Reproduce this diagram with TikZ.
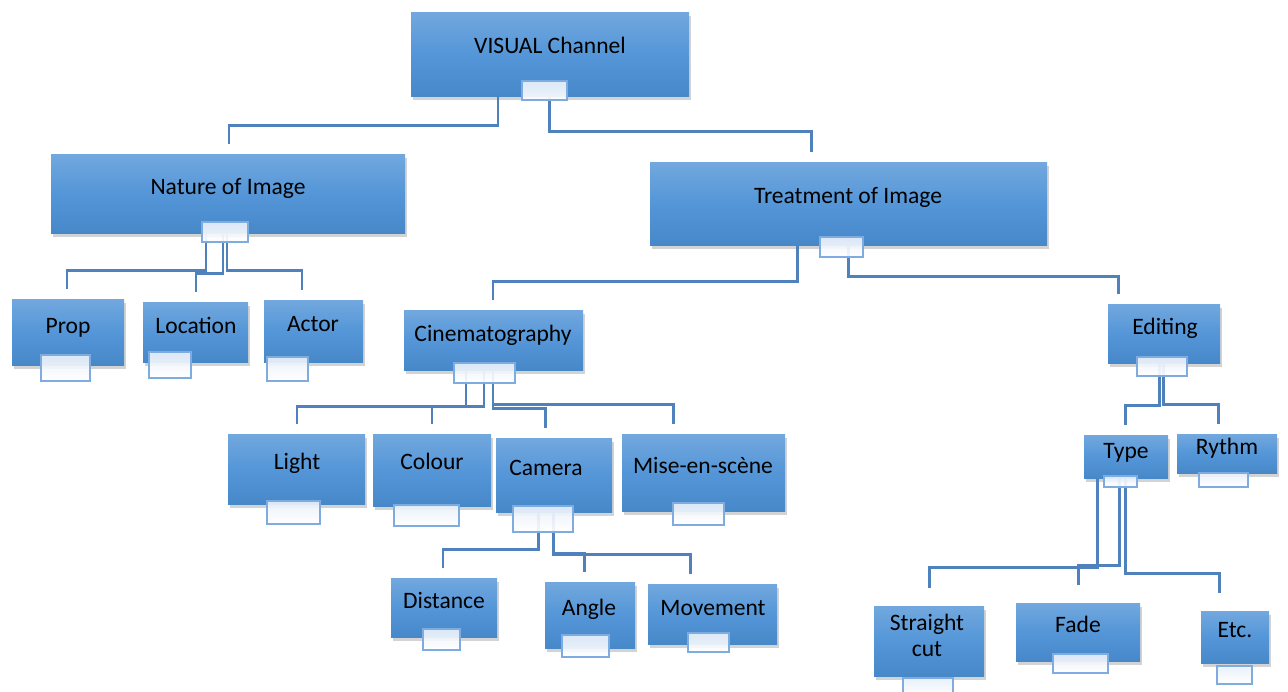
\documentclass[tikz,border=0pt]{standalone}
\usepackage{fontspec}
\setmainfont{Carlito}
\usetikzlibrary{fit,shadows}

\definecolor{boxtop}{RGB}{114,168,222}
\definecolor{boxmid}{RGB}{84,150,216}
\definecolor{boxbot}{RGB}{70,136,200}
\definecolor{linkblue}{RGB}{79,129,189}
\definecolor{tabline}{RGB}{126,172,224}
\definecolor{tabtop}{RGB}{232,240,250}

\tikzset{
  box/.style={inner sep=0pt, top color=boxtop, bottom color=boxbot, middle color=boxmid,
    drop shadow={shadow xshift=1pt, shadow yshift=-2pt, opacity=0.35}},
  tabbox/.style={inner sep=0pt, draw=tabline, line width=0.8pt, top color=tabtop, bottom color=white, fill opacity=0.92},
  lbl/.style={inner sep=0pt, font=\fontsize{13.4}{14.7}\selectfont},
  boxtext/.style={lbl, text height=0.8em, text depth=0pt},
  link/.style={draw=linkblue, line width=1.7pt, shorten >=0.19cm},
  linklong/.style={link, shorten >=0.36cm}
}

\begin{document}
\begin{tikzpicture}[x=0.02cm, y=-0.02cm]
\useasboundingbox (0,0) rectangle (1288,691);

% boxes
\foreach \n/\a/\b/\c/\d in {visual/411/12/689/96, nature/51/154/405/233, treatment/650/162/1047/245,
  prop/12/299/124/365, location/143/302/248/362, actor/264/300/363/362,
  cinema/404/310/583/370, editing/1108/304/1220/363,
  light/228/434/365/504, colour/373/434/491/506, camera/496/438/612/512, mise/622/434/785/511,
  distance/391/578/497/637, angle/545/582/635/648, movement/648/584/777/644,
  type/1084/435/1168/478, rythm/1177/434/1277/473,
  straight/874/606/984/676, fade/1016/603/1140/661, etc/1201/611/1269/663}
{
  \node[box, fit={(\a,\b) (\c,\d)}] (\n) {};
}

% texts
\node[boxtext] (tVisual) at (550,46) {VISUAL Channel};
\node[boxtext] (tNature) at (228,187) {Nature of Image};
\node[boxtext] (tTreatment) at (848,196) {Treatment of Image};
\node[boxtext] (tProp) at (68,326) {Prop};
\node[boxtext] (tLocation) at (196,326) {Location};
\node[boxtext] (tActor) at (313,324) {Actor};
\node[boxtext] (tCinema) at (493,334) {Cinematography};
\node[boxtext] (tEditing) at (1165,327) {Editing};
\node[boxtext] (tLight) at (297,462) {Light};
\node[boxtext] (tColour) at (432,462) {Colour};
\node[boxtext] (tCamera) at (546,468) {Camera};
\node[boxtext] (tMise) at (703,466) {Mise-en-scène};
\node[boxtext] (tDistance) at (444,601) {Distance};
\node[boxtext] (tAngle) at (589,608) {Angle};
\node[boxtext] (tMovement) at (713,608) {Movement};
\node[boxtext] (tType) at (1126,451) {Type};
\node[boxtext] (tRythm) at (1227,447) {Rythm};
\node[lbl, align=center, anchor=north] (tStraight) at (927,614) {Straight\\cut};
\node[boxtext] (tFade) at (1078,625) {Fade};
\node[boxtext] (tEtc) at (1235,630) {Etc.};

% connectors
\draw[link] (visual.south -| 498,0) |- (229,125) -- (nature.north -| 229,0);
\draw[link] (visual.south -| 549,0) |- (811,131) -- (treatment.north -| 811,0);

\draw[link] (nature.south -| 206,0) |- (67,270) -- (prop.north -| 67,0);
\draw[link] (nature.south -| 223,0) |- (196,273) -- (location.north -| 196,0);
\draw[link] (nature.south -| 227,0) |- (302,270) -- (actor.north -| 302,0);

\draw[link] (treatment.south -| 797,0) |- (493,281) -- (cinema.north -| 493,0);
\draw[link] (treatment.south -| 848,0) |- (1118,276) -- (editing.north -| 1118,0);

\draw[link] (cinema.south -| 466,0) |- (297,406) -- (light.north -| 297,0);
\draw[link] (cinema.south -| 484,0) |- (432,406) -- (colour.north -| 432,0);
\draw[link] (cinema.south -| 493,0) |- (545,408) -- (camera.north -| 545,0);
\draw[link] (cinema.south -| 493,0) |- (673,404) -- (mise.north -| 673,0);

\draw[link] (camera.south -| 538,0) |- (443,549) -- (distance.north -| 443,0);
\draw[link] (camera.south -| 553,0) |- (584,553) -- (angle.north -| 584,0);
\draw[link] (camera.south -| 553,0) |- (690,554) -- (movement.north -| 690,0);

\draw[link] (editing.south -| 1159,0) |- (1125,405) -- (type.north -| 1125,0);
\draw[link] (editing.south -| 1163,0) |- (1218,404) -- (rythm.north -| 1218,0);

\draw[linklong] (type.south -| 1097,0) |- (929,567) -- (straight.north -| 929,0);
\draw[linklong] (type.south -| 1119,0) |- (1078,565) -- (fade.north -| 1078,0);
\draw[linklong] (type.south -| 1125,0) |- (1219,573) -- (etc.north -| 1219,0);

% tabs
\foreach \n/\a/\b/\c/\d in {visual/522/81/567/100, nature/202/222/248/242, treatment/820/237/863/257,
  prop/41/355/90/381, location/149/352/191/378, actor/267/357/308/381,
  cinema/454/363/515/383, editing/1137/357/1187/376,
  light/267/501/320/524, colour/394/505/459/526, camera/513/506/573/532, mise/673/503/724/525,
  distance/423/629/460/650, angle/562/635/609/657, movement/688/633/729/652,
  type/1104/476/1137/487, rythm/1199/473/1248/487,
  straight/903/678/953/698, fade/1053/654/1108/673, etc/1217/666/1252/684}
{
  \node[tabbox, fit={(\a,\b) (\c,\d)}] (\n Tab) {};
}

\end{tikzpicture}
\end{document}
